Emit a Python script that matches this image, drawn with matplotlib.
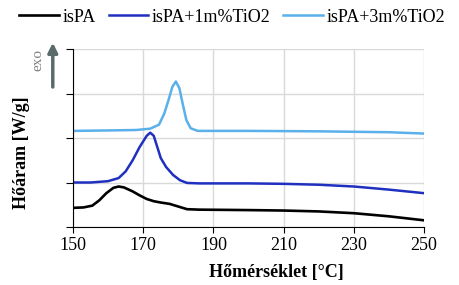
import matplotlib
matplotlib.use("Agg")
from matplotlib import pyplot as plt

# DSC curves (temperature in C, heat flow in arbitrary offset units)
tempPA = [150, 153, 155.5, 157.5, 159.5, 161.5, 163, 164.5, 167, 169, 171, 173, 175,
          177.5, 180, 182.5, 186, 200, 210, 220, 230, 240, 250]
flowPA = [0.43, 0.44, 0.48, 0.60, 0.76, 0.88, 0.91, 0.89, 0.80, 0.71, 0.63, 0.58, 0.55,
          0.52, 0.46, 0.40, 0.39, 0.38, 0.37, 0.35, 0.31, 0.24, 0.15]

temp1 = [150, 155, 160, 163, 165, 167, 169, 171, 172, 173, 174, 175, 176.5, 178.5,
         180.5, 182.5, 186, 200, 210, 220, 230, 240, 250]
flow1 = [1.00, 1.00, 1.03, 1.10, 1.25, 1.50, 1.80, 2.05, 2.12, 2.05, 1.80, 1.55, 1.35, 1.17,
         1.05, 0.99, 0.98, 0.98, 0.97, 0.95, 0.91, 0.84, 0.76]

temp3 = [150, 160, 168, 172, 174.5, 176, 177.2, 178.3, 179.3, 180.3, 181.3, 182.3,
         183.5, 185.5, 200, 220, 240, 250]
flow3 = [2.16, 2.17, 2.18, 2.21, 2.30, 2.55, 2.85, 3.15, 3.27, 3.12, 2.75, 2.40,
         2.22, 2.16, 2.16, 2.15, 2.13, 2.10]

labels = ["isPA", "isPA+1m%TiO2", "isPA+3m%TiO2"]
xticks = [150, 170, 190, 210, 230, 250]

plt.rcParams["font.family"] = ["Liberation Serif", "DejaVu Serif"]

fig = plt.figure(figsize=(4.59, 2.85), dpi=100)
ax = fig.add_axes([0.159, 0.2035, 0.765, 0.6245])

ax.plot(tempPA, flowPA, color="black", lw=1.9, label=labels[0])
ax.plot(temp1, flow1, color="#1f2fc0", lw=1.8, label=labels[1])
ax.plot(temp3, flow3, color="#5ab0ea", lw=1.8, label=labels[2])

ax.set_xlim(150, 250)
ax.set_ylim(0, 4)
ax.set_xticks(xticks)
ax.set_yticks([0, 1, 2, 3, 4])
ax.set_yticklabels([])
ax.tick_params(axis="x", labelsize=13, direction="out", length=4)
ax.tick_params(axis="y", direction="out", length=5)
ax.grid(True, color="#d9d9d9", lw=1)
ax.set_axisbelow(True)
ax.spines["top"].set_visible(False)
ax.spines["right"].set_visible(False)

ax.set_xlabel("Hőmérséklet [°C]", fontsize=13, fontweight="bold", labelpad=2)
ax.xaxis.set_label_coords(0.58, -0.21)
ax.set_ylabel("Hőáram [W/g]", fontsize=13, fontweight="bold")
ax.yaxis.set_label_coords(-0.122, 0.42)

# exo arrow
fig.text(0.083, 0.79, "exo", rotation=90, color="gray", fontsize=11, ha="center", va="center")
ax.annotate("", xy=(0.115, 0.86), xytext=(0.115, 0.685), xycoords="figure fraction",
            arrowprops=dict(arrowstyle="-|>", color="#5a6a6a", lw=2.5, mutation_scale=14))

fig.legend(loc="center", bbox_to_anchor=(0.506, 0.94), ncol=3, frameon=False,
           fontsize=13, handlelength=2.2, handletextpad=0.2, columnspacing=0.7,
           borderaxespad=0, borderpad=0)

fig.savefig("out.png", dpi=100)
